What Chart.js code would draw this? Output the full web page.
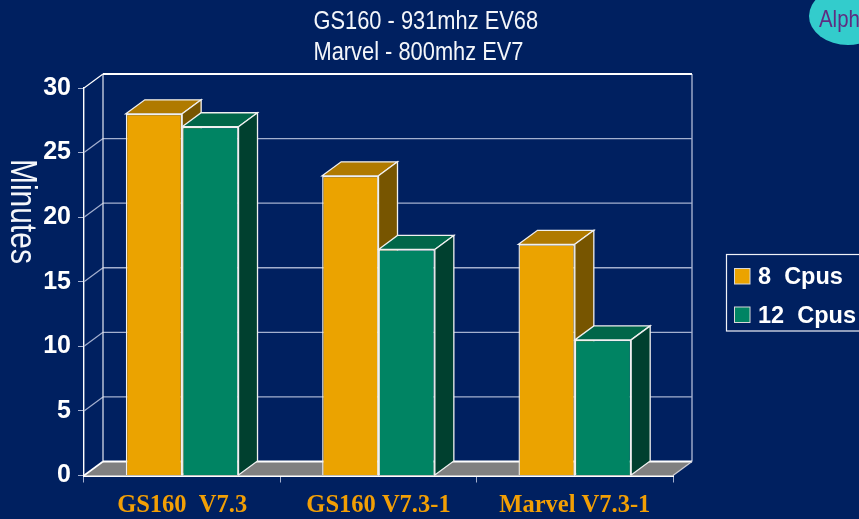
<!DOCTYPE html>
<html>
<head>
<meta charset="utf-8">
<title>GS160 - Marvel</title>
<script src="https://cdn.jsdelivr.net/npm/chart.js@4"></script>
<style>
  html, body { margin: 0; padding: 0; background: #002060; overflow: hidden; }
  canvas { display: block; }
</style>
</head>
<body>
<canvas id="chart" width="859" height="519"></canvas>
<script>
const categories = ['GS160  V7.3', 'GS160 V7.3-1', 'Marvel V7.3-1'];
const seriesNames = ['8  Cpus', '12  Cpus'];
const cpus8 = [28, 23.2, 17.9];
const cpus12 = [27, 17.5, 10.5];
const yMax = 30;
const yStep = 5;
const titleLines = ['GS160 - 931mhz EV68', 'Marvel - 800mhz EV7'];
const axisTitle = 'Minutes';
const badgeText = 'Alph';

// front colour, top face, side face for each series
const barColors = [
    { front: '#EBA300', top: '#B07A00', side: '#775500' },
    { front: '#008463', top: '#006649', side: '#00402F' }
];
const DX = 19, DY = 14;
const GRID = '#A4B0CF';
const EDGE = '#F0F0F0';
const SANS = '"Liberation Sans", sans-serif';

function poly(ctx, pts, fill, stroke, w) {
    ctx.beginPath();
    pts.forEach((p, i) => i ? ctx.lineTo(p[0], p[1]) : ctx.moveTo(p[0], p[1]));
    ctx.closePath();
    if (fill) { ctx.fillStyle = fill; ctx.fill(); }
    if (stroke) { ctx.strokeStyle = stroke; ctx.lineWidth = w || 1; ctx.stroke(); }
}

function line(ctx, x1, y1, x2, y2, color, w) {
    ctx.beginPath();
    ctx.moveTo(x1, y1);
    ctx.lineTo(x2, y2);
    ctx.strokeStyle = color;
    ctx.lineWidth = w;
    ctx.stroke();
}

// squeezed text, the reference uses a narrow face
function narrowText(ctx, text, x, y, size, squeeze, angle) {
    ctx.save();
    ctx.translate(x, y);
    if (angle) ctx.rotate(angle);
    ctx.scale(squeeze, 1);
    ctx.font = size + 'px ' + SANS;
    ctx.fillText(text, 0, 0);
    ctx.restore();
}

// back wall, left wall, floor and the 3D faces of the bars
const boxPlugin = {
    id: 'box',
    beforeDatasetsDraw(chart) {
        const { ctx, chartArea: a, scales: { y } } = chart;
        ctx.save();
        poly(ctx, [[a.left, a.bottom], [a.left + DX, a.bottom - DY], [a.right + DX, a.bottom - DY], [a.right, a.bottom]], '#808080');
        for (let v = yStep; v < yMax; v += yStep) {
            const py = y.getPixelForValue(v);
            line(ctx, a.left + DX, py - DY, a.right + DX, py - DY, GRID, 1.4);
            line(ctx, a.left, py, a.left + DX, py - DY, GRID, 1.2);
        }
        line(ctx, a.left, a.top, a.left + DX, a.top - DY, '#FFFFFF', 1.2);
        line(ctx, a.left, a.bottom, a.left + DX, a.bottom - DY, '#FFFFFF', 1.6);
        line(ctx, a.left + DX, a.top - DY, a.left + DX, a.bottom - DY, '#E4E8F2', 1.2);
        line(ctx, a.right + DX, a.top - DY, a.right + DX, a.bottom - DY, GRID, 1.4);
        line(ctx, a.left + DX, a.top - DY, a.right + DX, a.top - DY, '#FFFFFF', 1.8);
        line(ctx, a.left + DX, a.bottom - DY, a.right + DX, a.bottom - DY, '#FFFFFF', 1.8);
        line(ctx, a.right, a.bottom, a.right + DX, a.bottom - DY, '#D0D0D8', 1.2);

        // orange faces first so the green front can hide them
        chart.data.datasets.forEach((ds, i) => {
            const colors = barColors[i];
            chart.getDatasetMeta(i).data.forEach(bar => {
                const l = bar.x - bar.width / 2, r = bar.x + bar.width / 2;
                poly(ctx, [[l, bar.y], [l + DX, bar.y - DY], [r + DX, bar.y - DY], [r, bar.y]], colors.top, EDGE, 1.3);
                poly(ctx, [[r, bar.y], [r + DX, bar.y - DY], [r + DX, bar.base - DY], [r, bar.base]], colors.side, EDGE, 1.3);
            });
        });
        ctx.restore();
    }
};

// texts and shapes that sit outside the plot
const annotationPlugin = {
    id: 'annotations',
    afterDraw(chart) {
        const { ctx } = chart;
        ctx.save();
        ctx.textBaseline = 'alphabetic';
        ctx.textAlign = 'left';

        ctx.fillStyle = '#F4F6FA';
        narrowText(ctx, titleLines[0], 313.5, 29, 26, 0.84);
        narrowText(ctx, titleLines[1], 313.5, 60, 26, 0.84);
        narrowText(ctx, axisTitle, 11, 159, 37, 0.81, Math.PI / 2);

        ctx.beginPath();
        ctx.ellipse(848, 16, 39, 29, 0, 0, Math.PI * 2);
        ctx.fillStyle = '#33CCCC';
        ctx.fill();
        ctx.fillStyle = '#5F2C82';
        narrowText(ctx, badgeText, 819, 27, 24, 0.85);

        // legend
        ctx.strokeStyle = '#F0F2F8';
        ctx.lineWidth = 1.2;
        ctx.strokeRect(726.5, 254.5, 140, 76.5);
        chart.data.datasets.forEach((ds, i) => {
            const top = 268 + i * 38.5;
            ctx.fillStyle = ds.backgroundColor;
            ctx.fillRect(734.5, top + 0.5, 15.5, 15.5);
            ctx.strokeStyle = '#D8D8D8';
            ctx.lineWidth = 1;
            ctx.strokeRect(734.5, top + 0.5, 15.5, 15.5);
            ctx.fillStyle = '#FFFFFF';
            ctx.font = 'bold 23.5px ' + SANS;
            ctx.fillText(ds.label, 758, top + 16);
        });
        ctx.restore();
    }
};

new Chart(document.getElementById('chart'), {
    type: 'bar',
    data: {
        labels: categories,
        datasets: [
            { label: seriesNames[0], data: cpus8, backgroundColor: barColors[0].front, borderColor: EDGE, borderWidth: 1.4 },
            { label: seriesNames[1], data: cpus12, backgroundColor: barColors[1].front, borderColor: EDGE, borderWidth: 1.4 }
        ]
    },
    options: {
        responsive: false,
        animation: false,
        layout: { padding: { top: 88, right: 186 } },
        datasets: { bar: { barPercentage: 1, categoryPercentage: 0.574 } },
        plugins: { legend: { display: false }, title: { display: false }, tooltip: { enabled: false } },
        scales: {
            x: {
                afterFit(scale) { scale.height = 43.5; },
                grid: { drawOnChartArea: false, color: GRID, tickLength: 7 },
                border: { color: '#FFFFFF', width: 2 },
                ticks: { color: '#F29F05', padding: 8, maxRotation: 0, font: { family: '"Liberation Serif", serif', weight: 'bold', size: 24.5 } }
            },
            y: {
                min: 0,
                max: yMax,
                afterFit(scale) { scale.width = 84; },
                grid: { drawOnChartArea: false, color: GRID, tickLength: 6 },
                border: { color: '#FFFFFF', width: 1.4 },
                ticks: { stepSize: yStep, color: '#FFFFFF', padding: 7, font: { family: SANS, weight: 'bold', size: 25 } }
            }
        }
    },
    plugins: [boxPlugin, annotationPlugin]
});
</script>
</body>
</html>
